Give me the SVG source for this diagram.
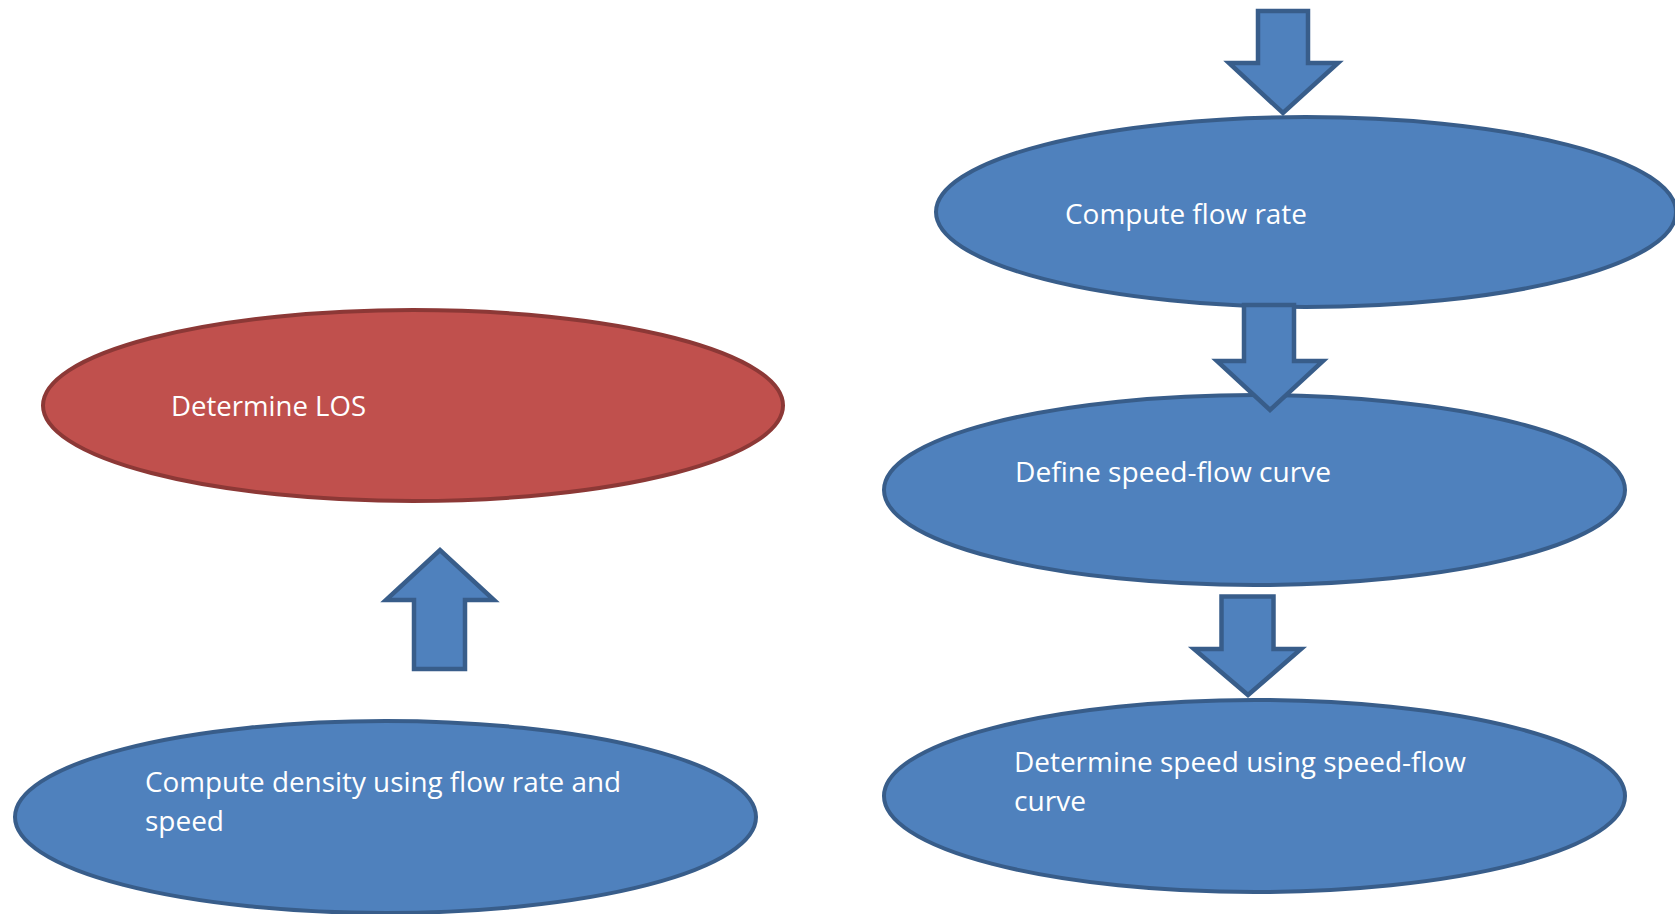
<svg xmlns="http://www.w3.org/2000/svg" width="1675" height="914" viewBox="0 0 1675 914">
  <style>
    .blue { fill: #4F81BD; stroke: #385D8A; stroke-width: 4; }
    .red { fill: #C0504D; stroke: #8C3836; stroke-width: 4; }
    .arrow { fill: #4F81BD; stroke: #385D8A; stroke-width: 4.5; stroke-linejoin: miter; stroke-miterlimit: 10; }
    .lbl { font-family: "Open Sans", "Liberation Sans", sans-serif; font-size: 28px; fill: #FFFFFF; }
  </style>
  <rect x="0" y="0" width="1675" height="914" fill="#FFFFFF"/>
  <g id="node-compute-density">
    <ellipse class="blue" cx="385.5" cy="817" rx="370.5" ry="96"/>
    <text class="lbl" x="145" y="792" textLength="476" lengthAdjust="spacingAndGlyphs">Compute density using flow rate and</text>
    <text class="lbl" x="145" y="831" textLength="79" lengthAdjust="spacingAndGlyphs">speed</text>
  </g>
  <g id="node-determine-los">
    <ellipse class="red" cx="413" cy="405.5" rx="370" ry="95.5"/>
    <text class="lbl" x="171" y="416" textLength="195" lengthAdjust="spacingAndGlyphs">Determine LOS</text>
  </g>
  <g id="node-define-curve">
    <ellipse class="blue" cx="1254.5" cy="490" rx="370.5" ry="95"/>
    <text class="lbl" x="1015" y="482" textLength="316" lengthAdjust="spacingAndGlyphs">Define speed-flow curve</text>
  </g>
  <g id="node-determine-speed">
    <ellipse class="blue" cx="1254.5" cy="796" rx="370.5" ry="96"/>
    <text class="lbl" x="1014" y="772" textLength="452" lengthAdjust="spacingAndGlyphs">Determine speed using speed-flow</text>
    <text class="lbl" x="1014" y="811" textLength="72" lengthAdjust="spacingAndGlyphs">curve</text>
  </g>
  <g id="node-compute-flow">
    <ellipse class="blue" cx="1306" cy="212" rx="370" ry="95"/>
    <text class="lbl" x="1065" y="224" textLength="242" lengthAdjust="spacingAndGlyphs">Compute flow rate</text>
  </g>
  <g id="connectors">
    <path class="arrow" d="M1258,11 L1308,11 L1308,63 L1338,63 L1283,113 L1229,63 L1258,63 Z"/>
    <path class="arrow" d="M1244,305 L1294,305 L1294,361 L1323,361 L1270,410 L1217,361 L1244,361 Z"/>
    <path class="arrow" d="M1221.5,596.5 L1273.5,596.5 L1273.5,649 L1301,649 L1248,695 L1194,649 L1221.5,649 Z"/>
    <path class="arrow" d="M414,669 L465,669 L465,600 L494,600 L440,550 L386,600 L414,600 Z"/>
  </g>
</svg>
